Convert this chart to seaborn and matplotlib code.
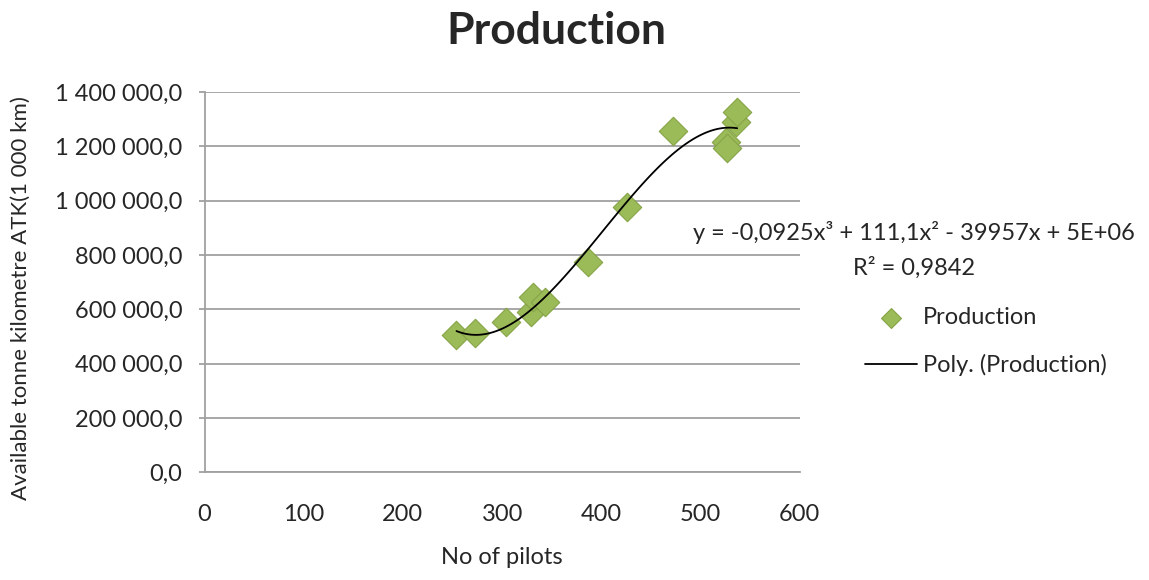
import numpy as np
import pandas as pd
import matplotlib
matplotlib.use("Agg")
import matplotlib.pyplot as plt
import seaborn as sns
from matplotlib.ticker import FuncFormatter

# values
pilots = [254, 273, 304, 329, 331, 343, 387, 426, 472, 526, 527, 536, 537]
production = [505000, 511000, 554000, 591000, 646000, 627000, 775000,
              977000, 1257000, 1217000, 1196000, 1291000, 1327000]
y_ticks = [0, 200000, 400000, 600000, 800000, 1000000, 1200000, 1400000]
x_ticks = [0, 100, 200, 300, 400, 500, 600]

df = pd.DataFrame({"pilots": pilots, "production": production})

sns.set_style("white")
plt.rcParams['font.family'] = ['Lato', 'DejaVu Sans']

fig = plt.figure(figsize=(11.49, 5.8), dpi=100)
ax = fig.add_axes([0.178, 0.186, 0.518, 0.655])

green = '#9BBB59'
sns.scatterplot(data=df, x='pilots', y='production', marker='D', s=210,
                color=green, edgecolor='#86A346', linewidth=0.8,
                label='Production', ax=ax, zorder=3)
sns.regplot(data=df, x='pilots', y='production', order=3, ci=None,
            scatter=False, ax=ax, label='Poly. (Production)',
            line_kws={'color': 'black', 'lw': 1.3, 'zorder': 4})

ax.set_xlim(0, 600)
ax.set_ylim(0, 1400000)
ax.set_xticks(x_ticks)
ax.set_yticks(y_ticks)
ax.yaxis.set_major_formatter(FuncFormatter(
    lambda v, p: f"{v:,.1f}".replace(",", " ").replace(".", ",")))

ax.grid(axis='y', color='#A0A0A0', lw=1.3)
ax.set_axisbelow(True)
for s in ['top', 'right']:
    ax.spines[s].set_visible(False)
for s in ['left', 'bottom']:
    ax.spines[s].set_color('#A0A0A0')
    ax.spines[s].set_linewidth(1.3)

ax.tick_params(axis='y', length=4, width=1.3, color='#A0A0A0', pad=12,
               labelsize=17, left=True)
ax.tick_params(axis='x', length=0, pad=23, labelsize=17)

ax.set_xlabel('No of pilots', fontsize=17, labelpad=16)
ax.set_ylabel('Available tonne kilometre ATK(1 000 km)', fontsize=16)
ax.yaxis.set_label_coords(-0.291, 0.458)

fig.text(0.484, 0.947, 'Production', fontsize=32, fontweight='bold',
         ha='center', va='center')

fig.text(0.7955, 0.600, 'y = -0,0925x³ + 111,1x² - 39957x + 5E+06',
         fontsize=17, ha='center', va='center')
fig.text(0.7955, 0.538, 'R² = 0,9842', fontsize=17, ha='center', va='center')

handles, labels = ax.get_legend_handles_labels()
if ax.legend_:
    ax.legend_.remove()
fig.legend(handles, labels, loc='upper left', bbox_to_anchor=(865 / 1149, 0.471),
           frameon=False, fontsize=17, handlelength=2.2, handletextpad=0.25,
           labelspacing=1.1, borderpad=0, borderaxespad=0, markerscale=0.7)

fig.savefig('out.png', dpi=100)
